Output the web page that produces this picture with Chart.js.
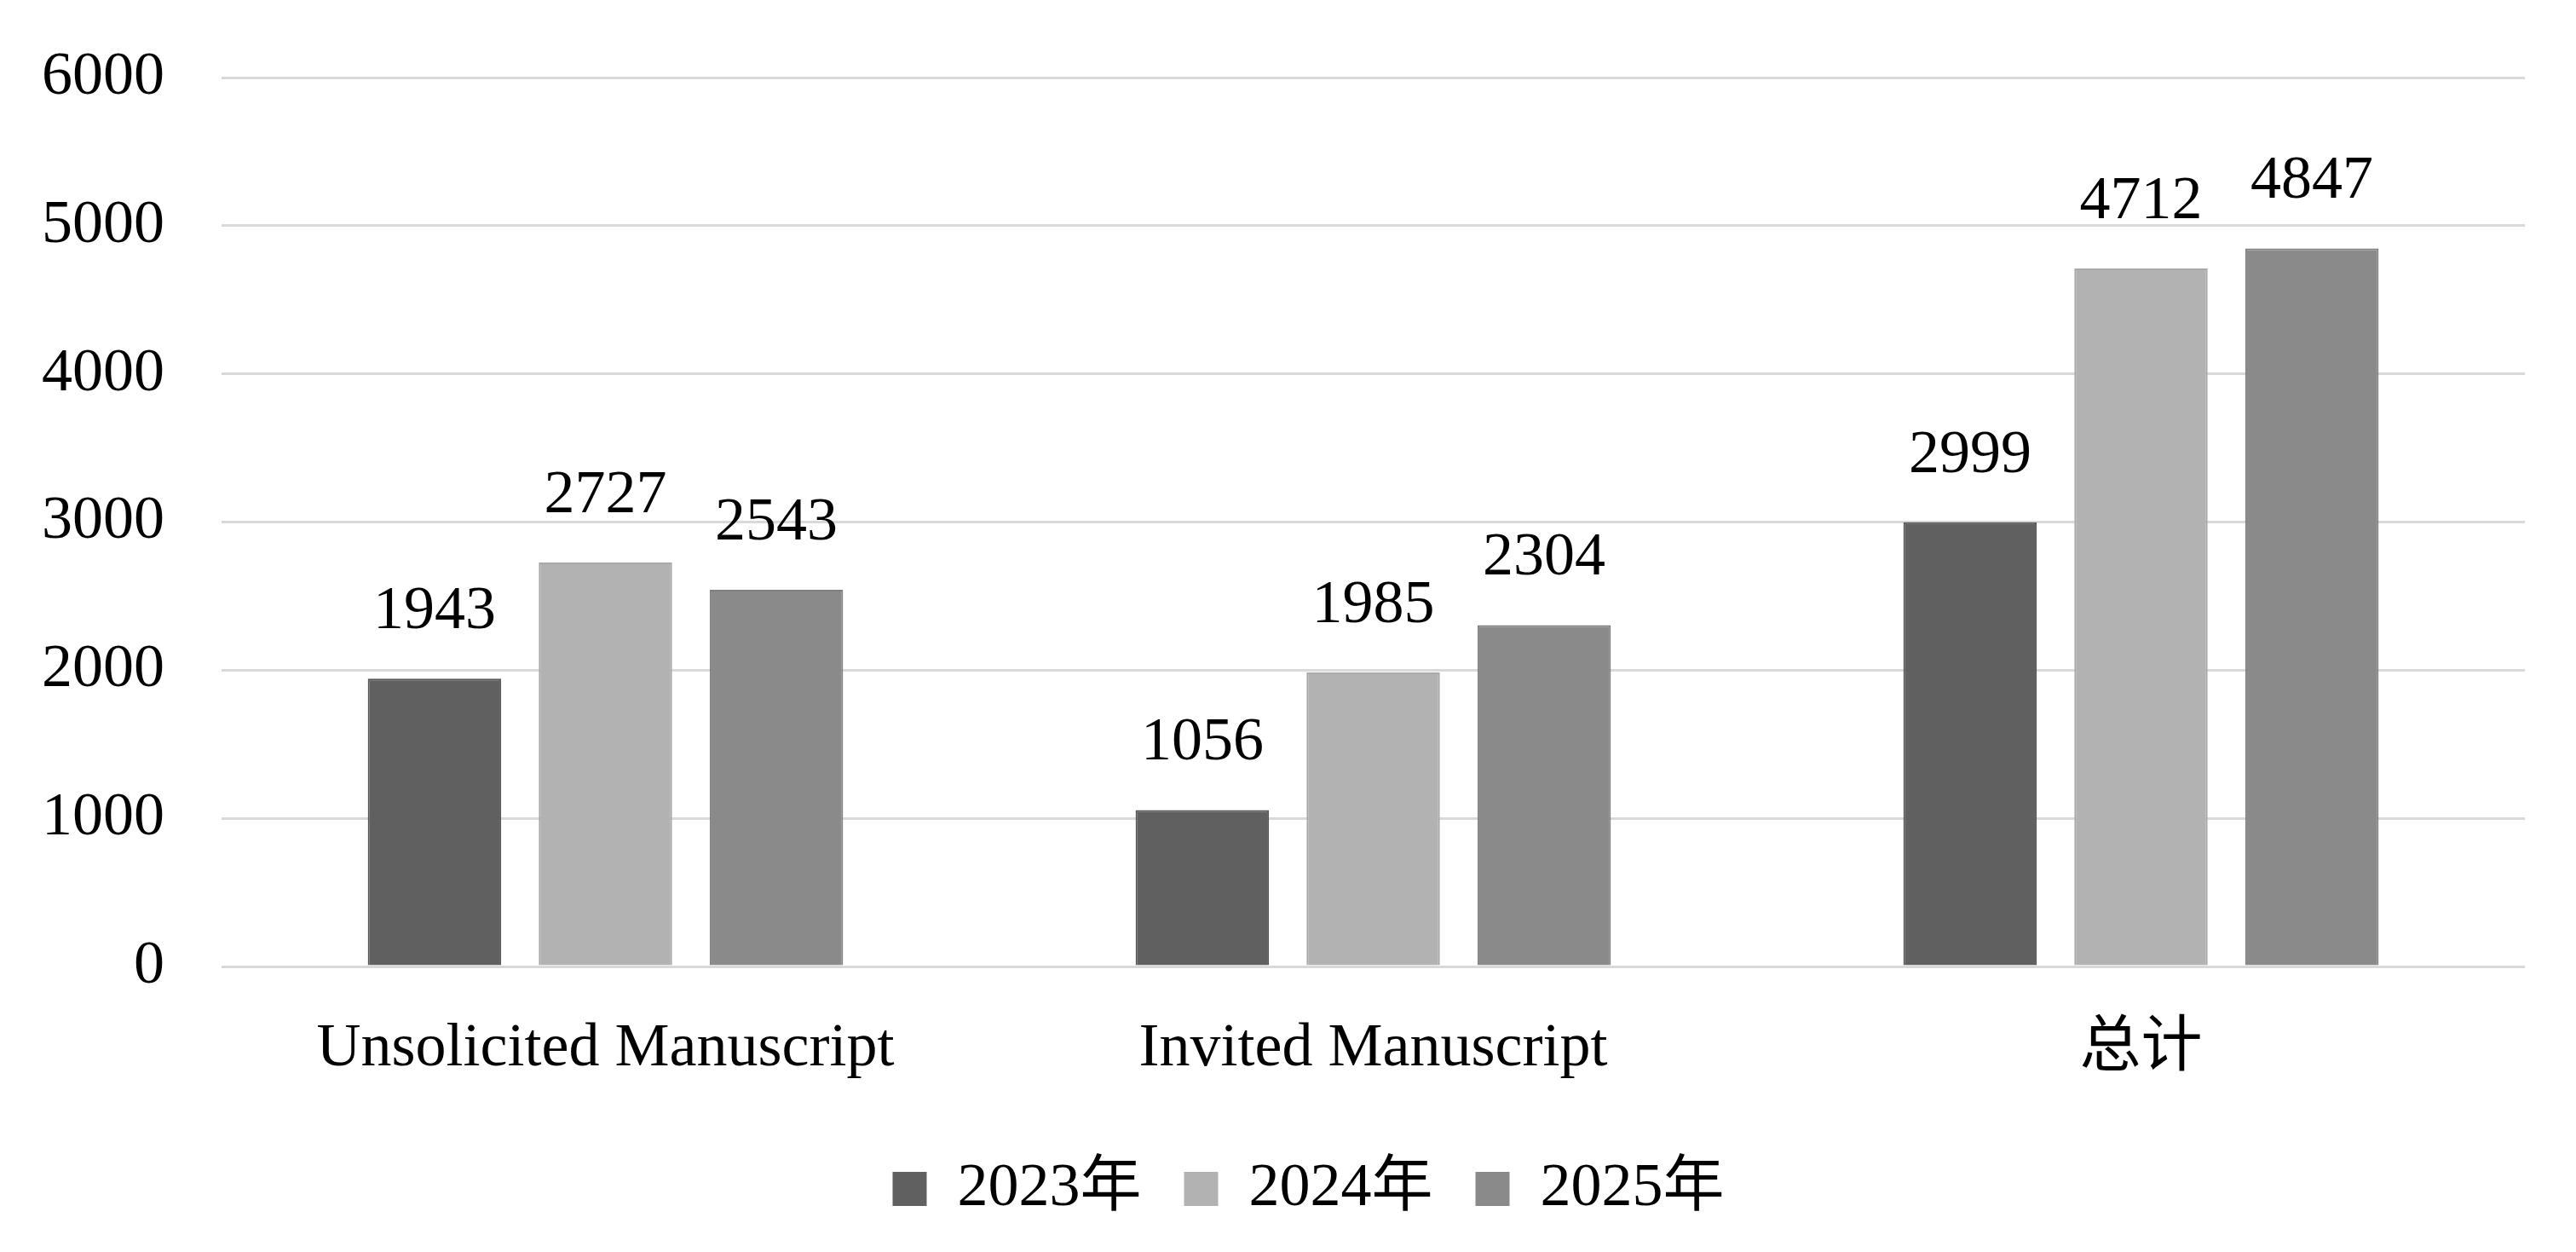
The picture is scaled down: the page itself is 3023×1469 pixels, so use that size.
<!DOCTYPE html>
<html>
<head>
<meta charset="utf-8">
<script src="https://cdn.jsdelivr.net/npm/chart.js@4/dist/chart.umd.min.js"></script>
<style>
	body { margin: 0; background: #ffffff; }
	#chart { display: block; }
</style>
</head>
<body>
<canvas id="chart" width="3023" height="1469"></canvas>
<script>
// Data
const categories = ["Unsolicited Manuscript", "Invited Manuscript", "总计"];
const seriesNames = ["2023年", "2024年", "2025年"];
const values2023 = [1943, 1056, 2999];
const values2024 = [2727, 1985, 4712];
const values2025 = [2543, 2304, 4847];
const yTicks = [0, 1000, 2000, 3000, 4000, 5000, 6000];

const fillColors = ["#606060", "#b2b2b2", "#8a8a8a"];
const edgeColors = ["#555555", "#a9a9a9", "#808080"];

const fontFamily = "'Liberation Serif', 'Noto Sans CJK SC', serif";
const fontSize = 72;

// Value labels above the bars
const valueLabels = {
	id: "valueLabels",
	afterDatasetsDraw(chart) {
		const ctx = chart.ctx;
		ctx.save();
		ctx.font = fontSize + "px " + fontFamily;
		ctx.fillStyle = "#000000";
		ctx.textAlign = "center";
		ctx.textBaseline = "middle";
		chart.data.datasets.forEach((ds, i) => {
			const meta = chart.getDatasetMeta(i);
			meta.data.forEach((bar, j) => {
				ctx.fillText(String(ds.data[j]), bar.x, bar.y - 78);
			});
		});
		ctx.restore();
	},
};

const seriesValues = [values2023, values2024, values2025];
const datasets = seriesNames.map((name, i) => ({
	label: name,
	data: seriesValues[i],
	backgroundColor: fillColors[i],
	borderColor: edgeColors[i],
	borderWidth: 2,
	categoryPercentage: 0.668,
	barPercentage: 0.78,
}));

new Chart(document.getElementById("chart").getContext("2d"), {
	type: "bar",
	data: { labels: categories, datasets: datasets },
	plugins: [valueLabels],
	options: {
		responsive: false,
		animation: false,
		devicePixelRatio: 1,
		layout: {
			padding: { left: 48, right: 0, top: 91, bottom: 28 },
		},
		scales: {
			x: {
				grid: { display: false },
				border: { display: false },
				ticks: {
					color: "#000000",
					padding: 46,
					font: { family: fontFamily, size: fontSize },
				},
				afterFit: (scale) => {
					scale.height = 175;
				},
			},
			y: {
				min: 0,
				max: 6000,
				afterBuildTicks: (scale) => {
					scale.ticks = yTicks.map((v) => ({ value: v }));
				},
				grid: {
					color: "#d9d9d9",
					lineWidth: 3,
					drawTicks: false,
				},
				border: { display: false },
				ticks: {
					color: "#000000",
					padding: 67,
					font: { family: fontFamily, size: fontSize },
					callback: (v) => String(v),
				},
				afterFit: (scale) => {
					scale.width = 212;
					scale.paddingTop = 0;
					scale.paddingBottom = 0;
				},
			},
			// empty right axis, only keeps space on the right
			yRight: {
				position: "right",
				grid: { display: false },
				border: { display: false },
				ticks: { display: false },
				afterFit: (scale) => {
					scale.width = 60;
				},
			},
		},
		plugins: {
			title: { display: false },
			tooltip: { enabled: false },
			legend: {
				position: "bottom",
				labels: {
					color: "#000000",
					boxWidth: 40,
					boxHeight: 40,
					padding: 50,
					font: { family: fontFamily, size: fontSize },
					generateLabels: (chart) =>
						chart.data.datasets.map((ds, i) => ({
							text: ds.label,
							fillStyle: fillColors[i],
							strokeStyle: fillColors[i],
							lineWidth: 0,
							datasetIndex: i,
						})),
				},
			},
		},
	},
});
</script>
</body>
</html>
